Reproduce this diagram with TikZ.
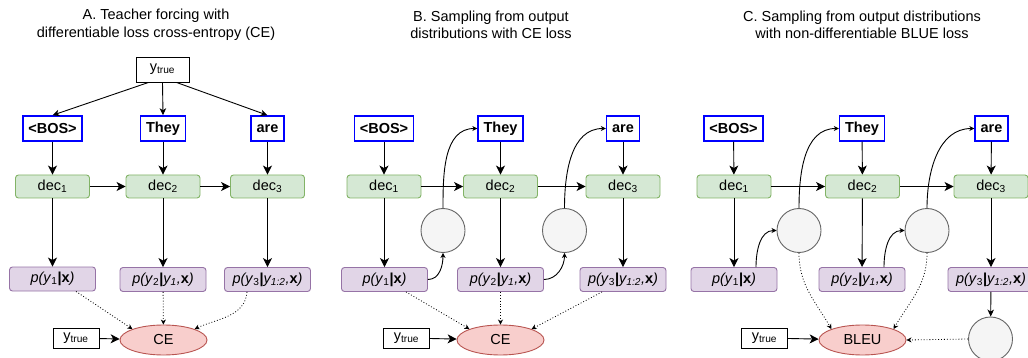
\documentclass[tikz,border=0pt]{standalone}
\usepackage{fontspec}
\setmainfont{Liberation Sans}
\usetikzlibrary{shapes.geometric,arrows.meta}

\definecolor{decfill}{HTML}{D5E8D4}
\definecolor{decline}{HTML}{82B366}
\definecolor{probfill}{HTML}{E1D5E7}
\definecolor{probline}{HTML}{9673A6}
\definecolor{lossfill}{HTML}{F8CECC}
\definecolor{lossline}{HTML}{B85450}
\definecolor{sampfill}{HTML}{F5F5F5}
\definecolor{sampline}{HTML}{666666}

\newcommand{\figfont}{\fontsize{14.5}{17.5}\selectfont}
\newcommand{\ytrue}{y\textsubscript{true}}
\newcommand{\decn}[1]{dec\textsubscript{#1}}
\newcommand{\pyone}{\textit{p(y}\textsubscript{1}\textbf{|x}\textit{)}}
\newcommand{\pytwo}{\textit{p(y}\textsubscript{2}\textbf{|}\textit{y\textsubscript{1},}\textbf{x}\textit{)}}
\newcommand{\pythree}{\textit{p(y}\textsubscript{3}\textbf{|}\textit{y\textsubscript{1:2},}\textbf{x}\textit{)}}

\tikzset{
  tok/.style={draw=blue,line width=1.5pt,fill=white,font=\figfont\bfseries,minimum height=25pt,inner xsep=5.5pt,inner ysep=0pt},
  gold/.style={draw=black,line width=0.9pt,fill=white,minimum width=53pt,minimum height=25pt,inner sep=0pt},
  goldsmall/.style={gold,minimum width=46pt,minimum height=20pt},
  dec/.style={draw=decline,line width=0.9pt,fill=decfill,rounded corners=3pt,minimum width=74pt,minimum height=23pt,inner sep=0pt},
  prob/.style={draw=probline,line width=0.9pt,fill=probfill,rounded corners=3pt,minimum width=86pt,minimum height=24pt,inner sep=0pt},
  loss/.style={ellipse,draw=lossline,line width=0.9pt,fill=lossfill,minimum width=87pt,minimum height=30pt,inner sep=0pt},
  samp/.style={circle,draw=sampline,line width=0.9pt,fill=sampfill,minimum size=44pt,inner sep=0pt},
  title/.style={align=center},
  arr/.style={-{Stealth[length=9pt,width=9pt,inset=2.5pt]},line width=0.9pt},
  midarr/.style={-{Stealth[length=7pt,width=6.5pt,inset=2pt]},line width=0.9pt},
  smallarr/.style={-{Stealth[length=5pt,width=5pt,inset=1.5pt]},line width=0.9pt},
  dotarr/.style={smallarr,dotted,line width=0.8pt}
}

\begin{document}
\begin{tikzpicture}[x=1pt,y=-1pt,font=\figfont]
\useasboundingbox (0,0) rectangle (1028,358);

\node[title](A-title) at (156,25){A. Teacher forcing with\\differentiable loss cross-entropy (CE)};
\node[gold](A-gold) at (162.5,69.5){\ytrue};
\node[tok](A-bos) at (52.5,128.5){<BOS>};
\node[tok](A-they) at (163,128.5){They};
\node[tok](A-are) at (267.5,128.5){are};
\node[dec](A-dec1) at (52.5,186.5){\decn{1}};
\node[dec](A-dec2) at (163,186.5){\decn{2}};
\node[dec](A-dec3) at (267.5,186.5){\decn{3}};
\node[prob](A-p1) at (52.5,279){\pyone};
\node[prob](A-p2) at (163,279.5){\pytwo};
\node[prob](A-p3) at (267.5,279.5){\pythree};
\node[loss](A-loss) at (163.5,340){CE};
\node[goldsmall](A-gold2) at (76,338){\ytrue};

\path
([xshift=-14pt]A-gold.south) edge[midarr] (A-bos.north)
(A-gold.south) edge[midarr] (A-they.north)
([xshift=14pt]A-gold.south) edge[midarr] (A-are.north)
(A-bos) edge[arr] (A-dec1)
(A-they) edge[arr] (A-dec2)
(A-are) edge[arr] (A-dec3)
(A-dec1) edge[arr] (A-dec2)
(A-dec2) edge[arr] (A-dec3)
(A-dec1) edge[arr] (A-p1)
(A-dec2) edge[arr] (A-p2)
(A-dec3) edge[arr] (A-p3)
([xshift=23.5pt]A-p1.south) edge[dotarr] (A-loss.north west)
(A-p2) edge[dotarr] (A-loss)
([xshift=-20.5pt]A-p3.south) edge[dotarr,out=-95,in=25] (A-loss.north east)
(A-gold2) edge[arr] (A-loss);

\node[title](B-title) at (491,25){B. Sampling from output\\distributions with CE loss};
\node[tok](B-bos) at (384,128.5){<BOS>};
\node[tok](B-they) at (500.5,128.5){They};
\node[tok](B-are) at (623,128.5){are};
\node[dec](B-dec1) at (384,186.5){\decn{1}};
\node[dec](B-dec2) at (500.5,186.5){\decn{2}};
\node[dec](B-dec3) at (623,186.5){\decn{3}};
\node[samp](B-s1) at (443,230.5){};
\node[samp](B-s2) at (564.5,230.5){};
\node[prob](B-p1) at (384.5,279.5){\pyone};
\node[prob](B-p2) at (500.5,279.5){\pytwo};
\node[prob](B-p3) at (623,279.5){\pythree};
\node[loss](B-loss) at (500.5,340){CE};
\node[goldsmall](B-gold2) at (406.5,338){\ytrue};

\path
(B-bos) edge[arr] (B-dec1)
(B-they) edge[arr] (B-dec2)
(B-are) edge[arr] (B-dec3)
(B-dec1) edge[arr] (B-dec2)
(B-dec2) edge[arr] (B-dec3)
(B-dec1.south -| B-p1) edge[arr] (B-p1)
(B-dec2) edge[arr] (B-p2)
(B-dec3) edge[arr] (B-p3)
(B-p1.east) edge[smallarr,out=0,in=-90] (B-s1.south)
(B-s1.north) edge[smallarr,out=90,in=180] (B-they.west)
(B-p2.east) edge[smallarr,out=0,in=-90] (B-s2.south)
(B-s2.north) edge[smallarr,out=90,in=180] (B-are.west)
([xshift=21.5pt]B-p1.south) edge[dotarr] (B-loss.north west)
(B-p2) edge[dotarr] (B-loss)
([xshift=-21pt]B-p3.south) edge[dotarr] (B-loss.north east)
(B-gold2) edge[arr] (B-loss);

\node[title](C-title) at (862,25){C. Sampling from output distributions\\with non-differentiable BLUE loss};
\node[tok](C-bos) at (733.5,128.5){<BOS>};
\node[tok](C-they) at (862,128.5){They};
\node[tok](C-are) at (991.5,128.5){are};
\node[dec](C-dec1) at (734,186.5){\decn{1}};
\node[dec](C-dec2) at (862.5,186.5){\decn{2}};
\node[dec](C-dec3) at (991,186.5){\decn{3}};
\node[samp](C-s1) at (799,230.5){};
\node[samp](C-s2) at (927,230.5){};
\node[prob](C-p1) at (734,279.5){\pyone};
\node[prob](C-p2) at (862,279.5){\pytwo};
\node[prob](C-p3) at (991,279.5){\pythree};
\node[loss](C-loss) at (862.5,340){BLEU};
\node[goldsmall](C-gold2) at (764.5,338){\ytrue};
\node[samp](C-s3) at (990.5,339){};

\path
(C-bos) edge[arr] (C-dec1)
(C-they) edge[arr] (C-dec2)
(C-are) edge[arr] (C-dec3)
(C-dec1) edge[arr] (C-dec2)
(C-dec2) edge[arr] (C-dec3)
(C-dec1) edge[arr] (C-p1)
(C-dec2) edge[arr] (C-p2)
(C-dec3) edge[arr] (C-p3)
([xshift=22pt]C-p1.north) edge[smallarr,out=90,in=180] (C-s1.west)
(C-s1.north) edge[smallarr,out=90,in=180] (C-they.west)
([xshift=22pt]C-p2.north) edge[smallarr,out=90,in=180] (C-s2.west)
(C-s2.north) edge[smallarr,out=90,in=180] (C-are.west)
(C-s1.south) edge[dotarr,out=-90,in=120] (C-loss.north west)
(C-s2.south) edge[dotarr,out=-90,in=60] (C-loss.north east)
(C-p3) edge[midarr] (C-s3)
(C-s3.west) edge[dotarr] (C-loss.east)
(C-gold2) edge[arr] (C-loss);
\end{tikzpicture}
\end{document}
